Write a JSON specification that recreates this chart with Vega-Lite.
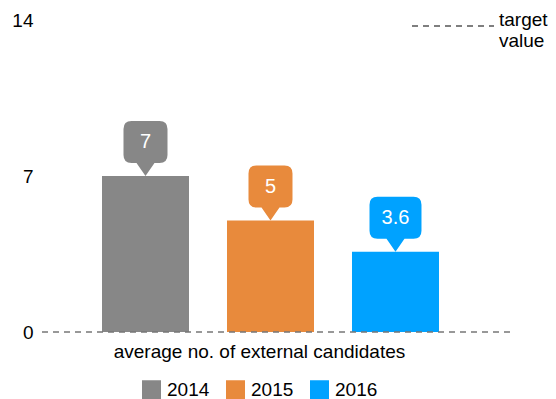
{
  "$schema": "https://vega.github.io/schema/vega-lite/v6.json",
  "width": 468,
  "height": 312,
  "autosize": {"type": "none"},
  "padding": {"left": 42, "top": 20, "right": 46, "bottom": 67},
  "config": {"font": "Liberation Sans", "view": {"stroke": null}},
  "datasets": {
    "bars": [
      {"year": "2014", "value": 7},
      {"year": "2015", "value": 5},
      {"year": "2016", "value": 3.6}
    ],
    "target": [{"series": "target value", "target": 0}]
  },
  "layer": [
    {
      "data": {"name": "bars"},
      "mark": {"type": "bar"},
      "encoding": {
        "x": {
          "field": "year", "type": "nominal",
          "scale": {"paddingInner": 0.304, "paddingOuter": 0.524, "align": 0.458},
          "axis": {"labels": false, "ticks": false, "domain": false, "title": "average no. of external candidates", "titleFontSize": 19, "titleFontWeight": "normal", "titleColor": "#000", "titlePadding": 10, "titleX": 217}
        },
        "y": {
          "field": "value", "type": "quantitative",
          "scale": {"domain": [0, 14]},
          "axis": {"values": [0, 7, 14], "title": null, "grid": false, "ticks": false, "domain": false, "labelFontSize": 19, "labelColor": "#000", "labelPadding": 9}
        },
        "color": {
          "field": "year", "type": "nominal",
          "scale": {"domain": ["2014", "2015", "2016"], "range": ["#878787", "#E88A3C", "#00A2FF"]},
          "legend": {"title": null, "orient": "none", "legendX": 100, "legendY": 360, "direction": "horizontal", "symbolType": "square", "symbolSize": 361, "symbolStrokeWidth": 0, "symbolOpacity": 1, "labelFontSize": 19, "labelColor": "#000", "labelOffset": 6, "columnPadding": 16}
        }
      }
    },
    {
      "data": {"name": "bars"},
      "mark": {"type": "point", "filled": true, "opacity": 1, "size": 3025, "strokeWidth": 0},
      "encoding": {
        "x": {"field": "year", "type": "nominal"},
        "y": {"field": "value", "type": "quantitative"},
        "color": {"field": "year", "type": "nominal", "legend": null},
        "shape": {
          "condition": {"test": "datum.value < 4", "value": "M0,0 L-0.327,-0.473 L-0.655,-0.473 Q-0.945,-0.473 -0.945,-0.763 L-0.945,-1.71 Q-0.945,-2 -0.655,-2 L0.655,-2 Q0.945,-2 0.945,-1.71 L0.945,-0.763 Q0.945,-0.473 0.655,-0.473 L0.327,-0.473 Z"},
          "value": "M0,0 L-0.327,-0.473 L-0.51,-0.473 Q-0.8,-0.473 -0.8,-0.763 L-0.8,-1.71 Q-0.8,-2 -0.51,-2 L0.51,-2 Q0.8,-2 0.8,-1.71 L0.8,-0.763 Q0.8,-0.473 0.51,-0.473 L0.327,-0.473 Z"
        }
      }
    },
    {
      "data": {"name": "bars"},
      "mark": {"type": "text", "dy": -34, "color": "#ffffff", "fontSize": 20, "baseline": "middle"},
      "encoding": {
        "x": {"field": "year", "type": "nominal"},
        "y": {"field": "value", "type": "quantitative"},
        "text": {"field": "value", "type": "quantitative"}
      }
    },
    {
      "data": {"name": "target"},
      "mark": {"type": "rule", "color": "#777777", "strokeWidth": 1.5},
      "encoding": {
        "y": {"field": "target", "type": "quantitative"},
        "strokeDash": {
          "field": "series", "type": "nominal",
          "scale": {"range": [[6, 5]]},
          "legend": {"title": null, "orient": "none", "legendX": 369, "legendY": -36, "symbolType": "stroke", "symbolSize": 6724, "symbolStrokeColor": "#555555", "symbolStrokeWidth": 1.5, "labelFontSize": 19, "labelColor": "#000", "labelOffset": 4, "labelBaseline": "alphabetic", "labelExpr": "split(datum.label, ' ')"}
        }
      }
    }
  ]
}
